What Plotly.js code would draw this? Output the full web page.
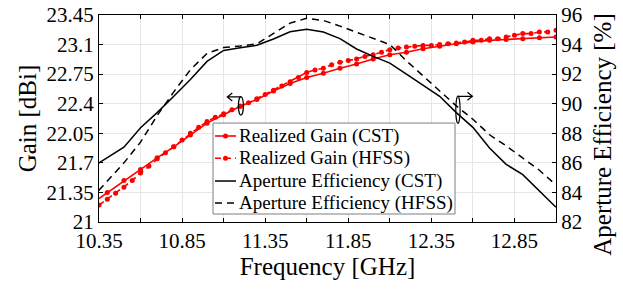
<!DOCTYPE html>
<html>
<head>
<meta charset="utf-8">
<script src="https://cdn.plot.ly/plotly-3.0.1.min.js"></script>
<style>
html,body{margin:0;padding:0;background:#fff;}
#chart{width:623px;height:290px;}
#spacer{position:absolute;left:0;top:0;width:1px;height:1px;}
</style>
</head>
<body>
<div id="chart"></div>
<div id="spacer"></div>
<script>
// Frequency grids [GHz]
const freqCST = [10.3,10.4,10.5,10.6,10.7,10.8,10.9,11.0,11.1,11.2,11.3,11.4,11.5,11.6,11.7,11.8,11.9,12.0,12.1,12.2,12.3,12.4,12.5,12.6,12.7,12.8,12.9,13.0,13.1];
const freqHFSS = [10.35,10.40,10.45,10.50,10.55,10.60,10.65,10.70,10.75,10.80,10.85,10.90,10.95,11.00,11.05,11.10,11.15,11.20,11.25,11.30,11.35,11.40,11.45,11.50,11.55,11.60,11.65,11.70,11.75,11.80,11.85,11.90,11.95,12.00,12.05,12.10,12.15,12.20,12.25,12.30,12.35,12.40,12.45,12.50,12.55,12.60,12.65,12.70,12.75,12.80,12.85,12.90,12.95,13.00,13.05,13.10];

// Realized gain [dBi]
const gainCST = [21.21,21.35,21.49,21.62,21.76,21.89,22.03,22.17,22.27,22.37,22.45,22.55,22.64,22.71,22.76,22.82,22.87,22.93,22.98,23.01,23.05,23.08,23.11,23.13,23.15,23.16,23.17,23.18,23.19];
const gainHFSS = [21.20,21.27,21.34,21.41,21.49,21.58,21.66,21.75,21.82,21.89,21.97,22.05,22.12,22.19,22.24,22.28,22.33,22.37,22.41,22.46,22.51,22.56,22.61,22.66,22.71,22.77,22.80,22.82,22.86,22.89,22.91,22.93,22.96,22.98,23.01,23.04,23.06,23.07,23.08,23.09,23.09,23.10,23.11,23.12,23.13,23.15,23.15,23.17,23.17,23.19,23.21,23.23,23.23,23.25,23.25,23.27];

// Aperture efficiency [%]
const effCST = [85.65,86.35,87.06,88.38,89.40,90.50,91.64,92.86,93.60,93.78,93.95,94.38,94.87,95.03,94.85,94.40,93.70,93.20,92.75,92.00,91.25,90.50,89.40,88.40,87.00,85.90,85.20,84.10,83.00];
const effHFSS = [83.54,84.78,86.00,87.40,89.20,90.80,92.30,93.40,93.80,93.90,94.05,94.75,95.45,95.78,95.63,95.25,94.85,94.45,94.00,92.90,91.90,90.85,89.85,88.95,87.90,87.15,86.35,85.50,84.50];

// Tick labels
const xTickVals = [10.35,10.6,10.85,11.1,11.35,11.6,11.85,12.1,12.35,12.6,12.85,13.1];
const xTickText = ['10.35','','10.85','','11.35','','11.85','','12.35','','12.85',''];
const gainTickVals = [21,21.35,21.7,22.05,22.4,22.75,23.1,23.45];
const gainTickText = ['21','21.35','21.7','22.05','22.4','22.75','23.1','23.45'];
const effTickVals = [82,84,86,88,90,92,94,96];
const effTickText = ['82','84','86','88','90','92','94','96'];

// Series names (legend)
const seriesNames = ['Realized Gain (CST)', 'Realized Gain (HFSS)', 'Aperture Efficiency (CST)', 'Aperture Efficiency (HFSS)'];

const FONT = 'Liberation Serif';
const RED = '#ff0000';
const DASH_RED = '6px,4px';
const DASH_BLK = '7px,5px';

const traces = [
  {x: freqCST, y: gainCST, name: seriesNames[0], type: 'scatter', mode: 'lines+markers',
   line: {color: RED, width: 1.6}, marker: {color: RED, size: 5}, yaxis: 'y'},
  {x: freqHFSS, y: gainHFSS, name: seriesNames[1], type: 'scatter', mode: 'lines+markers',
   line: {color: RED, width: 1.6, dash: DASH_RED}, marker: {color: RED, size: 5}, yaxis: 'y'},
  {x: freqCST, y: effCST, name: seriesNames[2], type: 'scatter', mode: 'lines',
   line: {color: '#000', width: 1.5}, yaxis: 'y2'},
  {x: freqCST, y: effHFSS, name: seriesNames[3], type: 'scatter', mode: 'lines',
   line: {color: '#000', width: 1.5, dash: DASH_BLK}, yaxis: 'y2'}
];

// boxed key (paper coordinates)
const legX0 = 0.2495, legX1 = 0.779, legY0 = 0.0386, legY1 = 0.478;
const rowY = [0.4155, 0.3077, 0.198, 0.0918];
const smpX0 = 0.2538, smpX1 = 0.2998, smpXm = 0.2768, txtX = 0.302;
const sampleStyle = [
  {color: RED, width: 1.6, dash: 'solid', marker: true},
  {color: RED, width: 1.6, dash: DASH_RED, marker: true},
  {color: '#000', width: 1.5, dash: 'solid', marker: false},
  {color: '#000', width: 1.5, dash: DASH_BLK, marker: false}
];
const legShapes = [{type: 'rect', xref: 'paper', yref: 'paper', x0: legX0, x1: legX1, y0: legY0, y1: legY1,
  fillcolor: '#fff', line: {color: '#7f7f7f', width: 1}, layer: 'above'}];
const legAnn = [];
seriesNames.forEach((nm, i) => {
  const st = sampleStyle[i];
  legShapes.push({type: 'line', xref: 'paper', yref: 'paper', x0: smpX0, x1: smpX1, y0: rowY[i], y1: rowY[i],
    line: {color: st.color, width: st.width, dash: st.dash}, layer: 'above'});
  if (st.marker) {
    legShapes.push({type: 'circle', xref: 'paper', yref: 'paper', xsizemode: 'pixel', ysizemode: 'pixel',
      xanchor: smpXm, yanchor: rowY[i], x0: -2.5, x1: 2.5, y0: -2.5, y1: 2.5,
      fillcolor: st.color, line: {color: st.color, width: 0}, layer: 'above'});
  }
  legAnn.push({xref: 'paper', yref: 'paper', x: txtX, y: rowY[i], xanchor: 'left', yanchor: 'middle',
    text: nm, showarrow: false, font: {family: FONT, size: 19, color: '#000'}});
});

const layout = {
  width: 623, height: 290,
  margin: {l: 99, r: 67, t: 15, b: 68},
  paper_bgcolor: '#fff', plot_bgcolor: '#fff',
  font: {family: FONT, size: 21, color: '#000'},
  showlegend: false,
  xaxis: {
    range: [10.35, 13.1], tickmode: 'array', tickvals: xTickVals, ticktext: xTickText,
    ticks: 'inside', ticklen: 4, tickcolor: '#000', tickwidth: 1,
    showline: true, linecolor: '#000', linewidth: 1, mirror: 'ticks',
    showgrid: true, gridcolor: '#e6e6e6', gridwidth: 1, zeroline: false,
    tickfont: {family: FONT, size: 21, color: '#000'},
    title: {text: 'Frequency [GHz]', font: {family: FONT, size: 25, color: '#000'}, standoff: 2},
    automargin: false
  },
  yaxis: {
    range: [21, 23.45], tickmode: 'array', tickvals: gainTickVals, ticktext: gainTickText,
    ticks: 'inside', ticklen: 4, tickcolor: '#000', tickwidth: 1,
    showline: true, linecolor: '#000', linewidth: 1, mirror: false,
    showgrid: true, gridcolor: '#e6e6e6', gridwidth: 1, zeroline: false,
    tickfont: {family: FONT, size: 21, color: '#000'},
    title: {text: 'Gain [dBi]', font: {family: FONT, size: 25, color: '#000'}, standoff: 2},
    automargin: false
  },
  yaxis2: {
    overlaying: 'y', side: 'right',
    range: [82, 96], tickmode: 'array', tickvals: effTickVals, ticktext: effTickText,
    ticks: 'inside', ticklen: 4, tickcolor: '#000', tickwidth: 1,
    showline: true, linecolor: '#000', linewidth: 1,
    showgrid: false, zeroline: false,
    tickfont: {family: FONT, size: 21, color: '#000'},
    automargin: false
  },
  annotations: [
    {xref: 'paper', yref: 'paper', x: 1.1, y: 0.42, xanchor: 'center', yanchor: 'middle',
     text: 'Aperture Efficiency [%]', textangle: -90, showarrow: false,
     font: {family: FONT, size: 25, color: '#000'}}
  ].concat(legAnn),
  shapes: [
    {type: 'circle', xref: 'x', yref: 'y', x0: 11.189, x1: 11.219, y0: 22.266, y1: 22.484,
     line: {color: '#000', width: 1.2}},
    {type: 'path', xref: 'x', yref: 'y',
     path: 'M 11.204 22.48 L 11.122 22.48 M 11.152 22.527 L 11.122 22.48 L 11.152 22.433',
     line: {color: '#000', width: 1.2}},
    {type: 'circle', xref: 'x', yref: 'y', x0: 12.497, x1: 12.523, y0: 22.167, y1: 22.491,
     line: {color: '#000', width: 1.2}},
    {type: 'path', xref: 'x', yref: 'y',
     path: 'M 12.51 22.488 L 12.597 22.488 M 12.567 22.535 L 12.597 22.488 L 12.567 22.441',
     line: {color: '#000', width: 1.2}}
  ].concat(legShapes)
};

Plotly.newPlot('chart', traces, layout, {displayModeBar: false, staticPlot: true});
</script>
</body>
</html>
